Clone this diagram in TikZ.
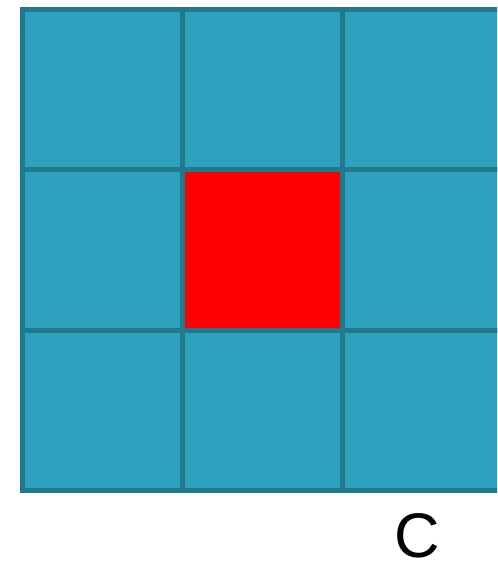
\documentclass[tikz,border=0pt]{standalone}
\usepackage{fontspec}
\setmainfont{Liberation Sans}
\definecolor{cellblue}{RGB}{46,161,190}
\definecolor{gridline}{RGB}{32,121,141}
\definecolor{hotred}{RGB}{255,0,0}
\begin{document}
\begin{tikzpicture}[x=1pt,y=-1pt,
  cell/.style={rectangle,draw=gridline,fill=cellblue,line width=5pt,minimum size=160pt,inner sep=0pt,outer sep=0pt},
  hot/.style={cell,fill=hotred},
  lbl/.style={font=\fontsize{63}{63}\selectfont,inner sep=0pt}]
\useasboundingbox (0,0) rectangle (497,561);
\clip (0,0) rectangle (497,561);
\fill[white] (0,0) rectangle (497,561);
\foreach \c [count=\i] in {102.5,262.5,422.5}{
  \foreach \r [count=\j] in {90,250,410}{
    \node[cell] (c\i\j) at (\c,\r) {};
  }
}
\node[hot] (c22) at (262.5,250) {};
\node[lbl] (label) at (417.5,536) {C};
\end{tikzpicture}
\end{document}
